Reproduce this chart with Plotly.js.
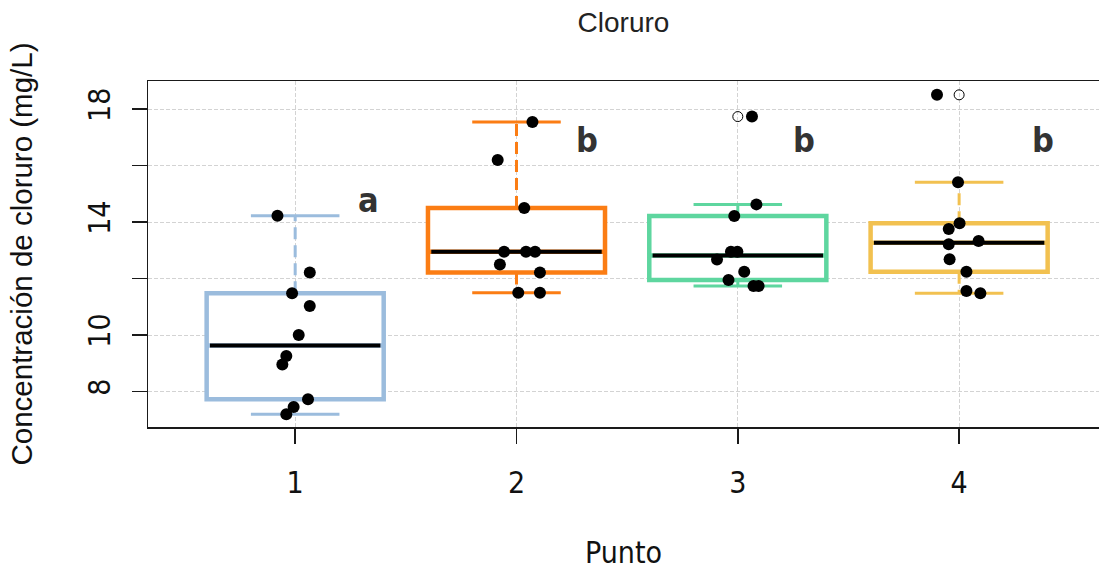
<!DOCTYPE html>
<html>
<head>
<meta charset="utf-8">
<script src="https://cdn.plot.ly/plotly-3.0.1.min.js"></script>
<style>html,body{margin:0;padding:0;background:#fff;}#chart{width:1099px;height:570px;}</style>
</head>
<body>
<div id="chart"></div>
<script>
// ---- data ----
const categories = ['1', '2', '3', '4'];
const vals1 = [14.23, 12.22, 11.48, 11.03, 10.0, 9.26, 8.96, 7.73, 7.45, 7.2];
const jit1  = [-0.080, 0.066, -0.014, 0.066, 0.016, -0.040, -0.058, 0.058, -0.007, -0.040];
const vals2 = [17.55, 16.2, 14.5, 12.95, 12.95, 12.95, 12.5, 12.22, 11.5, 11.5];
const jit2  = [0.072, -0.085, 0.035, -0.056, 0.043, 0.084, -0.075, 0.106, 0.008, 0.106];
const vals3 = [17.74, 14.63, 14.22, 12.95, 12.95, 12.68, 12.24, 11.95, 11.74, 11.74];
const jit3  = [0.064, 0.084, -0.016, -0.031, -0.002, -0.094, 0.029, -0.042, 0.071, 0.094];
const vals4 = [18.51, 15.41, 13.96, 13.76, 13.33, 13.22, 12.69, 12.24, 11.56, 11.48];
const jit4  = [-0.100, -0.005, 0.002, -0.047, 0.088, -0.047, -0.043, 0.033, 0.033, 0.096];
const letters = ['a', 'b', 'b', 'b'];
const yTickVals = [8, 10, 12, 14, 16, 18];
const yTickText = ['8', '10', '', '14', '', '18'];

const groups = [vals1, vals2, vals3, vals4];
const jitters = [jit1, jit2, jit3, jit4];
const colors = ['#9bbcdd', '#fb7d14', '#5ed69f', '#f2c150'];

// Tukey five-number summary (as R's boxplot)
function fivenum(v) {
  const x = v.slice().sort((a, b) => a - b);
  const n = x.length;
  const n4 = Math.floor((n + 3) / 2) / 2;
  const d = [1, n4, (n + 1) / 2, n + 1 - n4, n];
  return d.map(di => 0.5 * (x[Math.floor(di) - 1] + x[Math.ceil(di) - 1]));
}
function boxStats(v) {
  const f = fivenum(v);
  const q1 = f[1], med = f[2], q3 = f[3];
  const iqr = q3 - q1;
  const hi = q3 + 1.5 * iqr, lo = q1 - 1.5 * iqr;
  const inside = v.filter(a => a >= lo && a <= hi);
  return {
    q1: q1, med: med, q3: q3,
    lower: Math.min.apply(null, inside),
    upper: Math.max.apply(null, inside),
    out: v.filter(a => a < lo || a > hi)
  };
}

const traces = [];
const narrow = 'Liberation Sans Narrow, Arial Narrow, DejaVu Sans Condensed, Liberation Sans, sans-serif';
const regular = 'Liberation Sans, Arial, sans-serif';

groups.forEach((v, i) => {
  const p = i + 1;
  const s = boxStats(v);
  const col = colors[i];
  traces.push({
    type: 'box', x: [p], q1: [s.q1], median: [s.med], q3: [s.q3],
    lowerfence: [s.q1], upperfence: [s.q3],
    width: 0.8, whiskerwidth: 0, fillcolor: '#ffffff',
    line: {color: col, width: 4.5}, boxpoints: false,
    hoverinfo: 'skip', showlegend: false
  });
  traces.push({
    type: 'scatter', mode: 'lines',
    x: [p, p, null, p, p], y: [s.q3, s.upper, null, s.q1, s.lower],
    line: {color: col, width: 3, dash: '12px,6px'},
    hoverinfo: 'skip', showlegend: false
  });
  traces.push({
    type: 'scatter', mode: 'lines',
    x: [p - 0.2, p + 0.2, null, p - 0.2, p + 0.2],
    y: [s.upper, s.upper, null, s.lower, s.lower],
    line: {color: col, width: 3},
    hoverinfo: 'skip', showlegend: false
  });
  traces.push({
    type: 'scatter', mode: 'lines',
    x: [p - 0.385, p + 0.385], y: [s.med, s.med],
    line: {color: '#000000', width: 4},
    hoverinfo: 'skip', showlegend: false
  });
  if (s.out.length) {
    traces.push({
      type: 'scatter', mode: 'markers',
      x: s.out.map(() => p), y: s.out,
      marker: {symbol: 'circle-open', size: 10, color: '#000000', line: {width: 1}},
      hoverinfo: 'skip', showlegend: false
    });
  }
});
groups.forEach((v, i) => {
  traces.push({
    type: 'scatter', mode: 'markers',
    x: v.map((_, k) => i + 1 + jitters[i][k]), y: v,
    marker: {color: '#000000', size: 12},
    hoverinfo: 'skip', showlegend: false
  });
});

const letterPos = [[1.33, 14.78], [2.32, 16.91], [3.30, 16.91], [4.38, 16.91]];
const annotations = letters.map((t, i) => ({
  x: letterPos[i][0], y: letterPos[i][1], xref: 'x', yref: 'y',
  text: t, showarrow: false,
  font: {family: narrow, size: 34, color: '#333333', weight: 'bold'}
}));

const layout = {
  width: 1099, height: 570,
  margin: {l: 148, r: 0, t: 81, b: 143},
  paper_bgcolor: '#ffffff', plot_bgcolor: '#ffffff',
  showlegend: false, boxmode: 'overlay',
  title: {
    text: 'Cloruro', x: 0.5, xref: 'paper', xanchor: 'center',
    y: 1 - 22 / 570, yref: 'container', yanchor: 'middle',
    font: {family: regular, size: 28, color: '#222222'}
  },
  xaxis: {
    range: [0.335, 4.632], tickvals: [1, 2, 3, 4], ticktext: categories,
    showgrid: true, gridcolor: '#d3d3d3', griddash: '4px,2px', gridwidth: 1,
    zeroline: false, showline: true, mirror: true, linecolor: '#1a1a1a', linewidth: 1.5,
    ticks: 'outside', ticklen: 15, tickwidth: 1.5, tickcolor: '#1a1a1a',
    ticklabelstandoff: 13,
    tickfont: {family: narrow, size: 30, color: '#111111'},
    title: {text: 'Punto', standoff: 43, font: {family: narrow, size: 30, color: '#111111'}},
    automargin: false
  },
  yaxis: {
    range: [6.745, 19.0], tickvals: yTickVals, ticktext: yTickText,
    showgrid: true, gridcolor: '#d3d3d3', griddash: '4px,2px', gridwidth: 1,
    zeroline: false, showline: true, mirror: false, linecolor: '#1a1a1a', linewidth: 1.5,
    ticks: 'outside', ticklen: 15, tickwidth: 1.5, tickcolor: '#1a1a1a',
    tickangle: -90, ticklabelstandoff: 10,
    tickfont: {family: narrow, size: 30, color: '#111111'},
    title: {text: 'Concentración de cloruro (mg/L)', standoff: 40,
            font: {family: regular, size: 29.5, color: '#111111'}},
    automargin: false
  },
  annotations: annotations
};

Plotly.newPlot('chart', traces, layout, {displayModeBar: false, staticPlot: true});
</script>
</body>
</html>
